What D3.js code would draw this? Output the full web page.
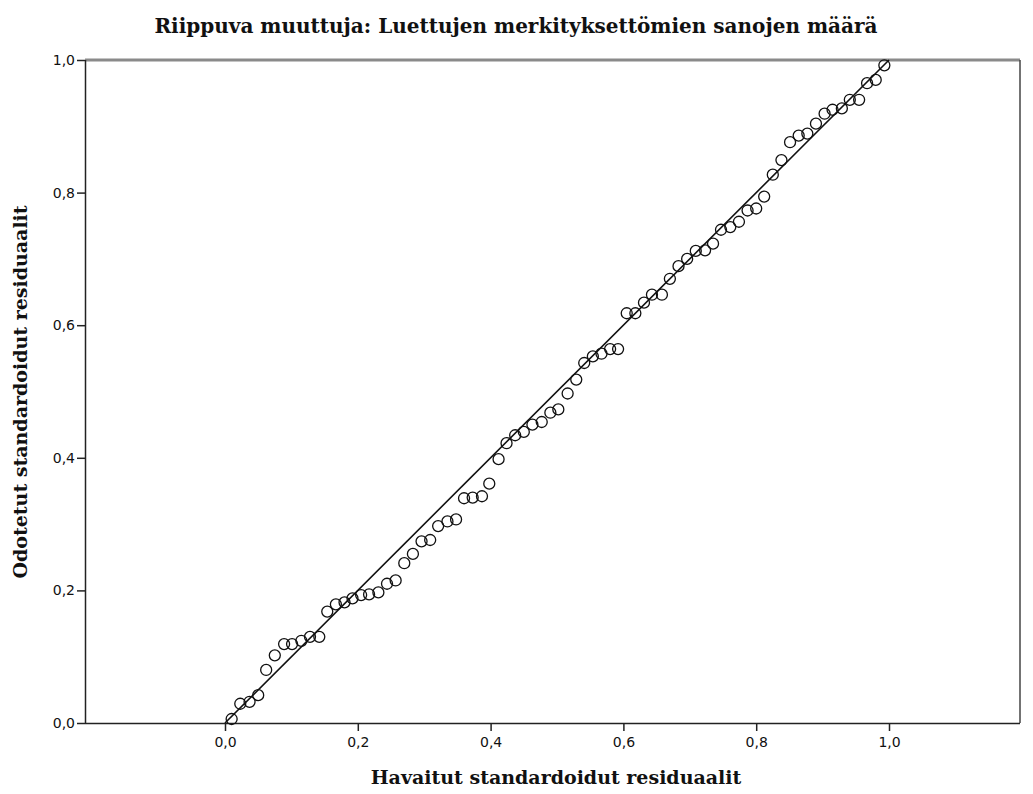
<!DOCTYPE html>
<html>
<head>
<meta charset="utf-8">
<script src="https://cdn.jsdelivr.net/npm/d3@7"></script>
<style>
  body { margin: 0; background: #fff; }
  .tick text { font-family: "DejaVu Sans", sans-serif; font-size: 14px; fill: #111; }
  .lbl { font-family: "DejaVu Serif", serif; font-weight: bold; fill: #111; }
</style>
</head>
<body>
<div id="chart"></div>
<script>
// havaitut (x) ja odotetut (y) kumulatiiviset todennakoisyydet
var observed = [0.010, 0.023, 0.037, 0.050, 0.062, 0.075, 0.089, 0.101, 0.115, 0.128,
  0.142, 0.154, 0.167, 0.180, 0.192, 0.205, 0.217, 0.231, 0.244, 0.257,
  0.270, 0.283, 0.296, 0.309, 0.321, 0.335, 0.348, 0.360, 0.373, 0.387,
  0.398, 0.412, 0.424, 0.437, 0.450, 0.463, 0.477, 0.490, 0.502, 0.516,
  0.529, 0.541, 0.554, 0.567, 0.580, 0.592, 0.605, 0.618, 0.631, 0.643,
  0.658, 0.670, 0.683, 0.696, 0.709, 0.723, 0.735, 0.747, 0.761, 0.774,
  0.787, 0.800, 0.812, 0.825, 0.838, 0.851, 0.864, 0.877, 0.890, 0.903,
  0.915, 0.929, 0.941, 0.955, 0.967, 0.980, 0.993];
var expected = [0.006, 0.029, 0.032, 0.042, 0.080, 0.102, 0.119, 0.119, 0.124, 0.130,
  0.130, 0.168, 0.179, 0.182, 0.188, 0.193, 0.194, 0.197, 0.210, 0.215,
  0.241, 0.255, 0.274, 0.276, 0.297, 0.304, 0.307, 0.339, 0.340, 0.342,
  0.361, 0.398, 0.422, 0.434, 0.439, 0.450, 0.454, 0.468, 0.473, 0.497,
  0.518, 0.543, 0.553, 0.557, 0.564, 0.564, 0.618, 0.618, 0.634, 0.646,
  0.646, 0.670, 0.689, 0.700, 0.712, 0.713, 0.723, 0.744, 0.748, 0.756,
  0.773, 0.776, 0.794, 0.827, 0.849, 0.876, 0.886, 0.889, 0.904, 0.919,
  0.925, 0.927, 0.940, 0.940, 0.965, 0.970, 0.992];
var tickValues = [0, 0.2, 0.4, 0.6, 0.8, 1.0];
var refLine = [[0, 0], [1, 1]];

var width = 1033, height = 794;
var plotLeft = 85, plotRight = 1020, plotTop = 60, plotBottom = 723;

var svg = d3.select("#chart").append("svg")
    .attr("width", width)
    .attr("height", height);

var x = d3.scaleLinear().domain([(plotLeft - 225) / 664, (plotRight - 225) / 664]).range([plotLeft, plotRight]);
var y = d3.scaleLinear().domain([0, 1]).range([plotBottom, plotTop]);

var fmt = d => d3.format(".1f")(d).replace(".", ",");

// kehys
svg.append("line")
    .attr("x1", plotLeft).attr("x2", plotRight).attr("y1", plotTop).attr("y2", plotTop)
    .attr("stroke", "#8a8a8a").attr("stroke-width", 3);
svg.append("line")
    .attr("x1", plotRight).attr("x2", plotRight).attr("y1", plotTop).attr("y2", plotBottom)
    .attr("stroke", "#444").attr("stroke-width", 1.5);

svg.append("g")
    .attr("transform", "translate(0," + plotBottom + ")")
    .call(d3.axisBottom(x).tickValues(tickValues).tickFormat(fmt).tickSize(8).tickPadding(6))
    .call(g => g.select(".domain").attr("d", "M" + plotLeft + ",0.5H" + plotRight).attr("stroke", "#222").attr("stroke-width", 1.5))
    .call(g => g.selectAll(".tick line").attr("stroke", "#222").attr("stroke-width", 1.5));

svg.append("g")
    .attr("transform", "translate(" + plotLeft + ",0)")
    .call(d3.axisLeft(y).tickValues(tickValues).tickFormat(fmt).tickSize(8).tickPadding(2))
    .call(g => g.select(".domain").attr("d", "M0.5," + plotTop + "V" + plotBottom).attr("stroke", "#222").attr("stroke-width", 1.5))
    .call(g => g.selectAll(".tick line").attr("stroke", "#222").attr("stroke-width", 1.5));

// viiva
svg.append("path")
    .datum(refLine)
    .attr("d", d3.line().x(d => x(d[0])).y(d => y(d[1])))
    .attr("fill", "none")
    .attr("stroke", "#111")
    .attr("stroke-width", 1.6);

svg.append("g").selectAll("circle")
    .data(observed.map((v, i) => [v, expected[i]]))
    .enter()
    .append("circle")
    .attr("cx", d => x(d[0]))
    .attr("cy", d => y(d[1]))
    .attr("r", 5.5)
    .attr("fill", "none")
    .attr("stroke", "#111")
    .attr("stroke-width", 1.3);

svg.append("text")
    .attr("class", "lbl")
    .attr("x", 516).attr("y", 33)
    .attr("text-anchor", "middle")
    .style("font-size", "20px")
    .text("Riippuva muuttuja: Luettujen merkityksettömien sanojen määrä");

svg.append("text")
    .attr("class", "lbl")
    .attr("x", 556).attr("y", 784)
    .attr("text-anchor", "middle")
    .style("font-size", "19px")
    .text("Havaitut standardoidut residuaalit");

svg.append("text")
    .attr("class", "lbl")
    .attr("transform", "translate(27,392) rotate(-90)")
    .attr("text-anchor", "middle")
    .style("font-size", "19px")
    .text("Odotetut standardoidut residuaalit");
</script>
</body>
</html>
